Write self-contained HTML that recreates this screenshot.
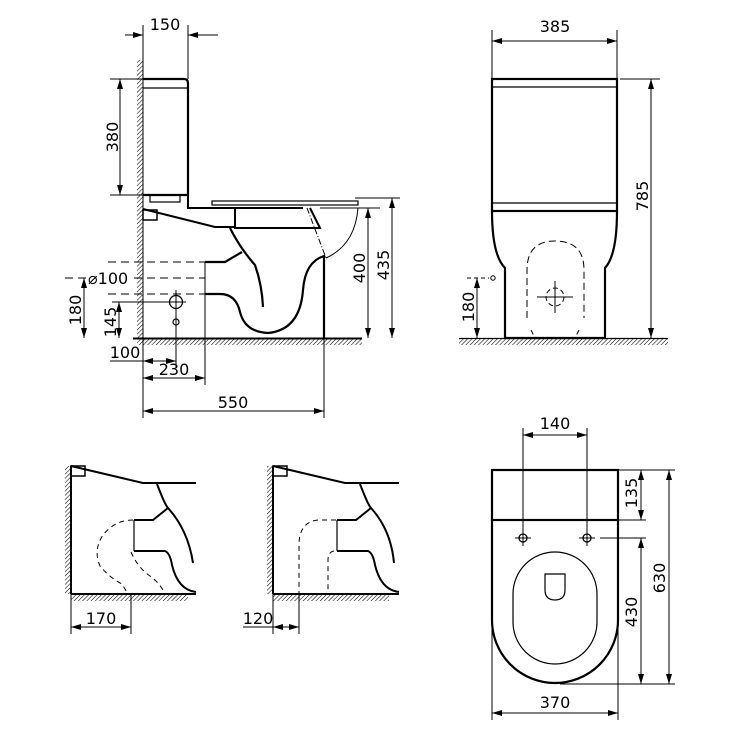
<!DOCTYPE html>
<html><head><meta charset="utf-8"><style>
html,body{margin:0;padding:0;background:#fff;}
svg{display:block;}
text{font-family:"DejaVu Sans","Liberation Sans",sans-serif;font-size:16px;fill:#000;}
</style></head><body>
<svg width="740" height="740" viewBox="0 0 740 740" xmlns="http://www.w3.org/2000/svg">
<defs>
<pattern id="h" width="3" height="3" patternUnits="userSpaceOnUse" patternTransform="rotate(45)">
<line x1="0" y1="0" x2="0" y2="3" stroke="#000" stroke-width="1.1"/>
</pattern>
<marker id="a" viewBox="0 0 10 6" refX="10" refY="3" markerWidth="10" markerHeight="6" markerUnits="userSpaceOnUse" orient="auto-start-reverse">
<path d="M0,0 L10,3 L0,6 z" fill="#000"/>
</marker>
</defs>

<g fill="none" stroke="#000" stroke-width="1">
<!-- ================= TOP LEFT SIDE VIEW ================= -->
<rect x="137" y="60" width="6" height="278" fill="url(#h)" stroke="none"/>
<rect x="137" y="339" width="225" height="6" fill="url(#h)" stroke="none"/>
<line x1="143" y1="60" x2="143" y2="418"/>
<line x1="133" y1="338.5" x2="362" y2="338.5" stroke-width="2"/>
<path d="M143,79 H184 Q188,79 188,83 V195 H143" stroke-width="2.2"/>
<line x1="143" y1="88" x2="188" y2="88" stroke-width="1.2"/>
<rect x="150" y="195" width="30" height="7" stroke-width="1.2"/>
<rect x="212" y="201" width="146" height="4" stroke-width="1.2"/>
<path d="M188,195 V208 H303" stroke-width="2"/>
<path d="M235,208 V228 H320 L310,208" stroke-width="2" fill="none"/>
<path d="M143,209 L215,227 H235" stroke-width="2"/>
<rect x="143" y="210" width="14" height="10" stroke-width="1.5"/>
<path d="M307,208 L326,258" stroke-dasharray="6,2,1,2"/>
<path d="M358,208 Q355,245 326,258"/>
<line x1="320" y1="208" x2="380" y2="208"/>
<line x1="355" y1="198" x2="400" y2="198"/>
<path d="M230,228 Q240,248 255,265 Q262,285 263,307" stroke-width="2.2"/>
<path d="M324,338 V256 Q305,262 303,290 Q300,330 268,333 Q245,332 240,312 Q236,294 220,294 H205" stroke-width="2.2"/>
<path d="M205,262 H225 L242,252" stroke-width="2.2"/>
<line x1="205" y1="262" x2="205" y2="385"/>
<line x1="324" y1="256" x2="324" y2="418"/>
<line x1="108" y1="262" x2="205" y2="262" stroke-dasharray="8,5"/>
<line x1="65" y1="278" x2="88" y2="278" stroke-dasharray="8,5"/>
<line x1="134" y1="278" x2="205" y2="278" stroke-dasharray="8,5"/>
<line x1="108" y1="294" x2="205" y2="294" stroke-dasharray="8,5"/>
<circle cx="176" cy="302" r="6.5" stroke-width="1.3"/>
<line x1="166" y1="302" x2="186" y2="302"/>
<circle cx="176" cy="322" r="3" stroke-width="1.2"/>
<line x1="176" y1="290" x2="176" y2="368"/>
<line x1="112" y1="302" x2="176" y2="302"/>
<line x1="143" y1="25" x2="143" y2="79"/>
<line x1="188" y1="25" x2="188" y2="79"/>
<line x1="125" y1="35" x2="143" y2="35" marker-end="url(#a)"/>
<line x1="218" y1="35" x2="188" y2="35" marker-end="url(#a)"/>
<line x1="110" y1="79" x2="143" y2="79"/>
<line x1="110" y1="195" x2="143" y2="195"/>
<line x1="120" y1="79" x2="120" y2="195" marker-start="url(#a)" marker-end="url(#a)"/>
<line x1="84" y1="278" x2="84" y2="338" marker-start="url(#a)" marker-end="url(#a)"/>
<line x1="119" y1="302" x2="119" y2="338" marker-start="url(#a)" marker-end="url(#a)"/>
<line x1="143" y1="361" x2="176" y2="361" marker-start="url(#a)" marker-end="url(#a)"/>
<line x1="110" y1="361" x2="143" y2="361"/>
<line x1="143" y1="378" x2="205" y2="378" marker-start="url(#a)" marker-end="url(#a)"/>
<line x1="143" y1="411" x2="324" y2="411" marker-start="url(#a)" marker-end="url(#a)"/>
<line x1="368" y1="208" x2="368" y2="338" marker-start="url(#a)" marker-end="url(#a)"/>
<line x1="392" y1="198" x2="392" y2="338" marker-start="url(#a)" marker-end="url(#a)"/>

<!-- ================= TOP RIGHT FRONT VIEW ================= -->
<rect x="459" y="339" width="209" height="6" fill="url(#h)" stroke="none"/>
<line x1="459" y1="338.5" x2="668" y2="338.5" stroke-width="1.2"/>
<rect x="492" y="79" width="125" height="132" stroke-width="2.2"/>
<line x1="492" y1="87" x2="617" y2="87" stroke-width="1.2"/>
<line x1="492" y1="203" x2="617" y2="203" stroke-width="1.2"/>
<path d="M492,211 Q492,255 505,268 V338 H605 V268 Q617,255 617,211" stroke-width="2.2"/>
<path d="M527,318 V270 Q527,241 555,241 Q584,241 584,270 V318" stroke-dasharray="7,4"/>
<path d="M531,330 L535,338 M579,330 L575,338" stroke-dasharray="5,3"/>
<circle cx="555" cy="297" r="9" stroke-dasharray="5,3"/>
<line x1="537" y1="297" x2="573" y2="297"/>
<line x1="555" y1="281" x2="555" y2="313"/>
<line x1="492" y1="30" x2="492" y2="79"/>
<line x1="617" y1="30" x2="617" y2="79"/>
<line x1="492" y1="41" x2="617" y2="41" marker-start="url(#a)" marker-end="url(#a)"/>
<line x1="620" y1="79" x2="660" y2="79"/>
<line x1="651" y1="79" x2="651" y2="338" marker-start="url(#a)" marker-end="url(#a)"/>
<circle cx="493" cy="278" r="2.2"/>
<line x1="467" y1="278" x2="489" y2="278" stroke-dasharray="4,3"/>
<line x1="477" y1="278" x2="477" y2="338" marker-start="url(#a)" marker-end="url(#a)"/>

<!-- ================= BOTTOM LEFT VIEW A ================= -->
<rect x="65" y="466" width="6" height="128" fill="url(#h)" stroke="none"/>
<rect x="71" y="595" width="117" height="6" fill="url(#h)" stroke="none"/>
<line x1="71" y1="466" x2="71" y2="634" stroke-width="1"/>
<line x1="71" y1="466" x2="71" y2="594" stroke-width="2"/>
<line x1="71" y1="594" x2="196" y2="594" stroke-width="2"/>
<path d="M71,466 L143,483 H196" stroke-width="2"/>
<rect x="71" y="466" width="14" height="10" stroke-width="1.5"/>
<path d="M157,484 Q165,505 168,508 Q188,530 193,563" stroke-width="2"/>
<path d="M134,520 H153 L168,508" stroke-width="2"/>
<line x1="134" y1="520" x2="134" y2="551" stroke-width="1.2"/>
<path d="M134,551 H165 Q170,553 172,565 Q178,590 196,592" stroke-width="2"/>
<path d="M133,520 Q115,520 103,535 Q93,550 100,566 Q110,578 122,584 L128,594" stroke-dasharray="5,4"/>
<path d="M131,552 Q138,568 150,576 Q160,583 165,594" stroke-dasharray="5,4"/>
<line x1="131" y1="594" x2="131" y2="634"/>
<line x1="71" y1="627" x2="131" y2="627" marker-start="url(#a)" marker-end="url(#a)"/>

<!-- ================= BOTTOM LEFT VIEW B ================= -->
<rect x="267" y="466" width="6" height="128" fill="url(#h)" stroke="none"/>
<rect x="273" y="595" width="116" height="6" fill="url(#h)" stroke="none"/>
<line x1="273" y1="466" x2="273" y2="634" stroke-width="1"/>
<line x1="273" y1="466" x2="273" y2="594" stroke-width="2"/>
<line x1="273" y1="594" x2="399" y2="594" stroke-width="2"/>
<path d="M273,466 L345,483 H399" stroke-width="2"/>
<rect x="273" y="466" width="14" height="10" stroke-width="1.5"/>
<path d="M360,484 Q368,505 371,508 Q391,530 394,563" stroke-width="2"/>
<path d="M337,520 H356 L371,508" stroke-width="2"/>
<line x1="337" y1="520" x2="337" y2="551" stroke-width="1.2"/>
<path d="M337,551 H368 Q373,553 375,565 Q381,590 399,592" stroke-width="2"/>
<path d="M336,520 H318 Q299,522 299,545 V594" stroke-dasharray="5,4"/>
<path d="M334,551 Q328,552 328,560 V594" stroke-dasharray="5,4"/>
<line x1="299" y1="594" x2="299" y2="634"/>
<line x1="243" y1="627" x2="273" y2="627"/>
<line x1="273" y1="627" x2="299" y2="627" marker-start="url(#a)" marker-end="url(#a)"/>

<!-- ================= BOTTOM RIGHT TOP VIEW ================= -->
<rect x="492" y="470" width="126" height="50" stroke-width="2.2"/>
<path d="M492,520 V620 A63,63 0 0 0 618,620 V520" stroke-width="2.2"/>
<rect x="513" y="552" width="84" height="112" rx="42" ry="42" stroke-width="1.2"/>
<path d="M545,574 H565 V590 Q565,600 555,600 Q545,600 545,590 Z" stroke-width="1.2"/>
<circle cx="523" cy="538" r="4" stroke-width="1.3"/>
<circle cx="587" cy="538" r="4" stroke-width="1.3"/>
<line x1="515" y1="538" x2="531" y2="538"/>
<line x1="579" y1="538" x2="595" y2="538"/>
<line x1="523" y1="428" x2="523" y2="546"/>
<line x1="587" y1="428" x2="587" y2="546"/>
<line x1="523" y1="435" x2="587" y2="435" marker-start="url(#a)" marker-end="url(#a)"/>
<line x1="618" y1="470" x2="675" y2="470"/>
<line x1="618" y1="520" x2="646" y2="520"/>
<line x1="600" y1="538" x2="646" y2="538"/>
<line x1="560" y1="684" x2="675" y2="684"/>
<line x1="641" y1="470" x2="641" y2="520" marker-start="url(#a)" marker-end="url(#a)"/>
<line x1="641" y1="538" x2="641" y2="684" marker-start="url(#a)" marker-end="url(#a)"/>
<line x1="669" y1="470" x2="669" y2="684" marker-start="url(#a)" marker-end="url(#a)"/>
<line x1="492" y1="620" x2="492" y2="720"/>
<line x1="618" y1="620" x2="618" y2="720"/>
<line x1="492" y1="713" x2="618" y2="713" marker-start="url(#a)" marker-end="url(#a)"/>
</g>

<g>
<text x="165" y="30" text-anchor="middle">150</text>
<text transform="translate(118,137) rotate(-90)" text-anchor="middle">380</text>
<text x="88" y="284">⌀100</text>
<text transform="translate(81,310) rotate(-90)" text-anchor="middle">180</text>
<text transform="translate(116,322) rotate(-90)" text-anchor="middle">145</text>
<text x="125" y="358" text-anchor="middle">100</text>
<text x="174" y="375" text-anchor="middle">230</text>
<text x="233" y="408" text-anchor="middle">550</text>
<text transform="translate(365,268) rotate(-90)" text-anchor="middle">400</text>
<text transform="translate(389,265) rotate(-90)" text-anchor="middle">435</text>
<text x="555" y="32" text-anchor="middle">385</text>
<text transform="translate(648,196) rotate(-90)" text-anchor="middle">785</text>
<text transform="translate(474,307) rotate(-90)" text-anchor="middle">180</text>
<text x="101" y="624" text-anchor="middle">170</text>
<text x="258" y="624" text-anchor="middle">120</text>
<text x="555" y="429" text-anchor="middle">140</text>
<text transform="translate(637,493) rotate(-90)" text-anchor="middle">135</text>
<text transform="translate(637,612) rotate(-90)" text-anchor="middle">430</text>
<text transform="translate(665,578) rotate(-90)" text-anchor="middle">630</text>
<text x="555" y="708" text-anchor="middle">370</text>
</g>
</svg>
</body></html>
